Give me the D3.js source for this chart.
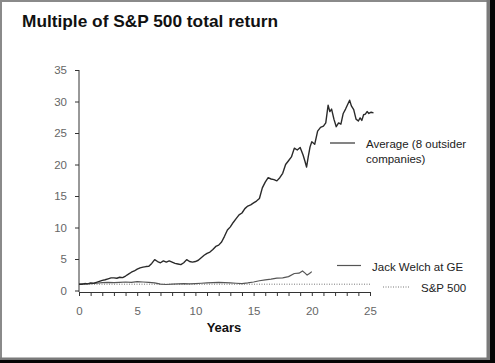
<!DOCTYPE html>
<html>
<head>
<meta charset="utf-8">
<script src="https://cdn.jsdelivr.net/npm/d3@7"></script>
<style>
  html, body { margin: 0; padding: 0; background: #fff; }
  svg { display: block; }
  text { font-family: "Liberation Sans", Arial, Helvetica, sans-serif; }
</style>
</head>
<body>
<svg id="chart" width="495" height="363"></svg>
<script>
// ---- data ----
const titleText = "Multiple of S&P 500 total return";
const xLabelText = "Years";
const yTickValues = [0, 5, 10, 15, 20, 25, 30, 35];
const xTickLabels = [0, 5, 10, 15, 20, 25];
const xMinorTicks = d3.range(0, 26);

const seriesNames = ["Average (8 outsider companies)", "Jack Welch at GE", "S&P 500"];

const averageData = [
  [0.0,1.0],[0.25,1.0],[0.5,1.1],[0.75,1.05],[1.0,1.2],[1.25,1.15],[1.5,1.3],[1.75,1.45],
  [2.0,1.6],[2.25,1.7],[2.5,1.85],[2.75,2.0],[3.0,2.0],[3.25,1.95],[3.5,2.1],[3.75,2.05],
  [4.0,2.3],[4.25,2.6],[4.5,2.9],[4.75,3.1],[5.0,3.4],[5.25,3.6],[5.5,3.7],[5.75,3.8],
  [6.0,3.85],[6.25,4.3],[6.5,4.9],[6.75,4.6],[7.0,4.4],[7.25,4.7],[7.5,4.5],[7.75,4.7],
  [8.0,4.5],[8.25,4.3],[8.5,4.2],[8.75,4.1],[9.0,4.4],[9.25,4.9],[9.5,4.6],[9.75,4.5],
  [10.0,4.6],[10.25,4.8],[10.5,5.2],[10.75,5.6],[11.0,5.9],[11.25,6.1],[11.5,6.5],[11.75,7.0],
  [12.0,7.2],[12.25,7.7],[12.5,8.6],[12.75,9.6],[13.0,10.1],[13.25,10.8],[13.5,11.4],[13.75,12.0],
  [14.0,12.3],[14.25,13.0],[14.5,13.4],[14.75,13.6],[15.0,13.9],[15.25,14.2],[15.5,14.6],[15.75,16.3],
  [16.0,17.2],[16.25,17.9],[16.5,17.7],[16.75,17.6],[17.0,17.4],[17.25,17.9],[17.5,18.6],[17.75,20.0],
  [18.0,20.6],[18.25,21.2],[18.5,22.6],[18.75,22.3],[19.0,22.7],[19.25,21.5],[19.4,20.6],[19.55,19.6],
  [19.7,21.3],[19.85,22.8],[20.0,23.6],[20.25,23.2],[20.5,25.3],[20.75,25.9],[21.0,26.1],[21.2,26.6],
  [21.4,29.4],[21.55,28.4],[21.7,28.8],[21.9,27.2],[22.1,26.0],[22.3,26.6],[22.5,26.4],[22.7,28.1],
  [22.9,28.8],[23.1,29.6],[23.25,30.2],[23.4,29.3],[23.6,28.7],[23.8,27.2],[24.0,26.9],[24.15,27.4],
  [24.3,27.0],[24.45,27.9],[24.6,28.0],[24.75,28.4],[24.9,28.1],[25.1,28.3],[25.3,28.2]
];

const welchData = [
  [0,1.0],[0.5,1.05],[1,1.1],[1.5,1.15],[2,1.25],[2.5,1.3],[3,1.25],[3.5,1.3],[4,1.35],
  [4.5,1.3],[5,1.4],[5.5,1.35],[6,1.3],[6.5,1.2],[7,1.0],[7.5,0.95],[8,1.0],[8.5,1.05],
  [9,1.1],[9.5,1.05],[10,1.1],[10.5,1.15],[11,1.2],[11.5,1.25],[12,1.3],[12.5,1.25],
  [13,1.2],[13.5,1.15],[14,1.1],[14.5,1.2],[15,1.35],[15.5,1.55],[16,1.7],[16.5,1.8],
  [17,1.95],[17.5,2.0],[18,2.2],[18.5,2.7],[18.9,2.75],[19.2,3.1],[19.4,2.8],[19.6,2.45],
  [19.8,2.7],[20,3.0]
];

const spData = [[0,1],[25,1]];

// ---- drawing ----
const svg = d3.select("#chart");
const W = 495, H = 363;

// frame of the scanned picture
svg.append("rect").attr("x",0).attr("y",0).attr("width",W).attr("height",H).attr("fill","#fff");
svg.append("rect").attr("x",0).attr("y",0).attr("width",490).attr("height",2).attr("fill","#8a8a8a");
svg.append("rect").attr("x",0).attr("y",0).attr("width",2).attr("height",360).attr("fill","#8a8a8a");
svg.append("rect").attr("x",486.5).attr("y",0).attr("width",4).attr("height",360).attr("fill","#7a7a7a");
svg.append("rect").attr("x",0).attr("y",357.5).attr("width",490).attr("height",2.5).attr("fill","#7a7a7a");
svg.append("rect").attr("x",490).attr("y",0).attr("width",5).attr("height",H).attr("fill","#050505");
svg.append("rect").attr("x",0).attr("y",360).attr("width",W).attr("height",3).attr("fill","#050505");

const x = d3.scaleLinear().domain([0, 25]).range([79, 370]);
const y = d3.scaleLinear().domain([0, 35]).range([290.5, 70]);

// title
svg.append("text").attr("x", 22).attr("y", 27)
  .attr("font-size", 17.3).attr("font-weight", "bold").attr("fill", "#111")
  .text(titleText);

// y axis
const yAxis = svg.append("g").attr("transform", "translate(79,0)")
  .call(d3.axisLeft(y).tickValues(yTickValues).tickSize(4).tickPadding(8).tickSizeOuter(0));
yAxis.select(".domain").attr("stroke", "#333").attr("d", `M0,${y(35)}V${y(0)+1.5}`);
yAxis.selectAll(".tick line").attr("stroke", "#333");
yAxis.selectAll(".tick text").attr("font-size", 11.5).attr("fill", "#666")
  .attr("font-family", "Liberation Sans, Arial, sans-serif");

// x axis
const xAxis = svg.append("g").attr("transform", "translate(0,292)")
  .call(d3.axisBottom(x).tickValues(xMinorTicks).tickSize(4).tickPadding(11).tickSizeOuter(0)
    .tickFormat(d => xTickLabels.includes(d) ? d : ""));
xAxis.select(".domain").attr("stroke", "#333");
xAxis.selectAll(".tick line").attr("stroke", "#333");
xAxis.selectAll(".tick text").attr("font-size", 11.5).attr("fill", "#666")
  .attr("font-family", "Liberation Sans, Arial, sans-serif");

svg.append("text").attr("x", 224).attr("y", 332).attr("text-anchor", "middle")
  .attr("font-size", 13).attr("font-weight", "bold").attr("fill", "#111")
  .text(xLabelText);

// lines
const line = d3.line().x(d => x(d[0])).y(d => y(d[1]));

svg.append("path").datum(spData).attr("d", line)
  .attr("fill", "none").attr("stroke", "#777").attr("stroke-width", 1)
  .attr("stroke-dasharray", "1,1.5");

svg.append("path").datum(welchData).attr("d", line)
  .attr("fill", "none").attr("stroke", "#555").attr("stroke-width", 1.2)
  .attr("stroke-linejoin", "round");

svg.append("path").datum(averageData).attr("d", line)
  .attr("fill", "none").attr("stroke", "#2a2a2a").attr("stroke-width", 1.4)
  .attr("stroke-linejoin", "round");

// legends
const leg = svg.append("g");
leg.append("line").attr("x1", 330).attr("x2", 355).attr("y1", 143).attr("y2", 143)
  .attr("stroke", "#333").attr("stroke-width", 1.2);
leg.append("text").attr("x", 366).attr("y", 148).attr("font-size", 11.5).attr("fill", "#222")
  .text("Average (8 outsider");
leg.append("text").attr("x", 366).attr("y", 163).attr("font-size", 11.5).attr("fill", "#222")
  .text("companies)");

leg.append("line").attr("x1", 337).attr("x2", 361).attr("y1", 265.5).attr("y2", 265.5)
  .attr("stroke", "#555").attr("stroke-width", 1.2);
leg.append("text").attr("x", 372).attr("y", 271).attr("font-size", 11.5).attr("fill", "#222")
  .text(seriesNames[1]);

leg.append("line").attr("x1", 383).attr("x2", 409).attr("y1", 287).attr("y2", 287)
  .attr("stroke", "#777").attr("stroke-width", 1).attr("stroke-dasharray", "1,1.5");
leg.append("text").attr("x", 421).attr("y", 292).attr("font-size", 11.5).attr("fill", "#222")
  .text(seriesNames[2]);
</script>
</body>
</html>
